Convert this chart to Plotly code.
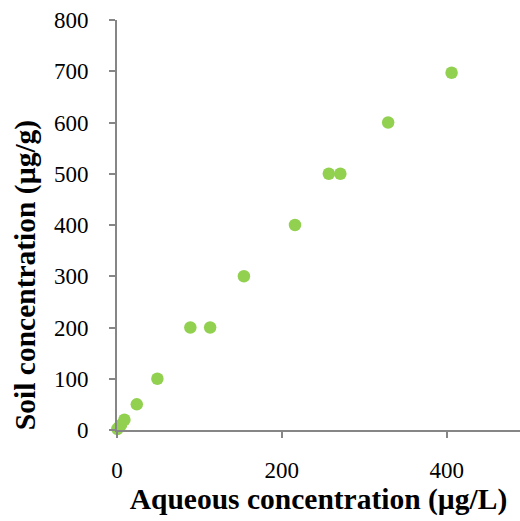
import plotly.graph_objects as go

aqueous = [0.5, 2, 5, 9, 24, 49, 89, 113, 154, 216, 257, 271, 329, 406]
soil = [2, 5, 10, 20, 50, 100, 200, 200, 300, 400, 500, 500, 600, 697]

fig = go.Figure(go.Scatter(
    x=aqueous, y=soil, mode="markers",
    marker=dict(color="#92D050", size=12.5, line=dict(width=0)),
    cliponaxis=False,
))

font_family = "Liberation Serif"
fig.update_layout(
    width=520, height=521,
    margin=dict(l=117, r=0, t=20, b=91),
    plot_bgcolor="white", paper_bgcolor="white",
    showlegend=False,
    font=dict(family=font_family, size=23, color="black"),
)
fig.update_xaxes(
    range=[0, 489], tickvals=[0, 200, 400],
    showline=True, linecolor="#868686", linewidth=2,
    ticks="outside", ticklen=6, tickcolor="#868686", tickwidth=1.5,
    ticklabelstandoff=12, showgrid=False, zeroline=False,
    title=dict(text="<b>Aqueous concentration (µg/L)</b>", font=dict(size=29.5, family=font_family), standoff=2),
)
fig.update_yaxes(
    range=[0, 800], tickvals=[0, 100, 200, 300, 400, 500, 600, 700, 800],
    showline=True, linecolor="#868686", linewidth=2,
    ticks="outside", ticklen=6, tickcolor="#868686", tickwidth=1.5,
    ticklabelstandoff=16, showgrid=False, zeroline=False,
)
fig.add_annotation(
    text="<b>Soil concentration (µg/g)</b>", textangle=-90,
    xref="paper", yref="paper", x=-0.228, y=0.378,
    xanchor="center", yanchor="middle", showarrow=False,
    font=dict(size=29.5, family=font_family, color="black"),
)
fig.write_html("out.html")
